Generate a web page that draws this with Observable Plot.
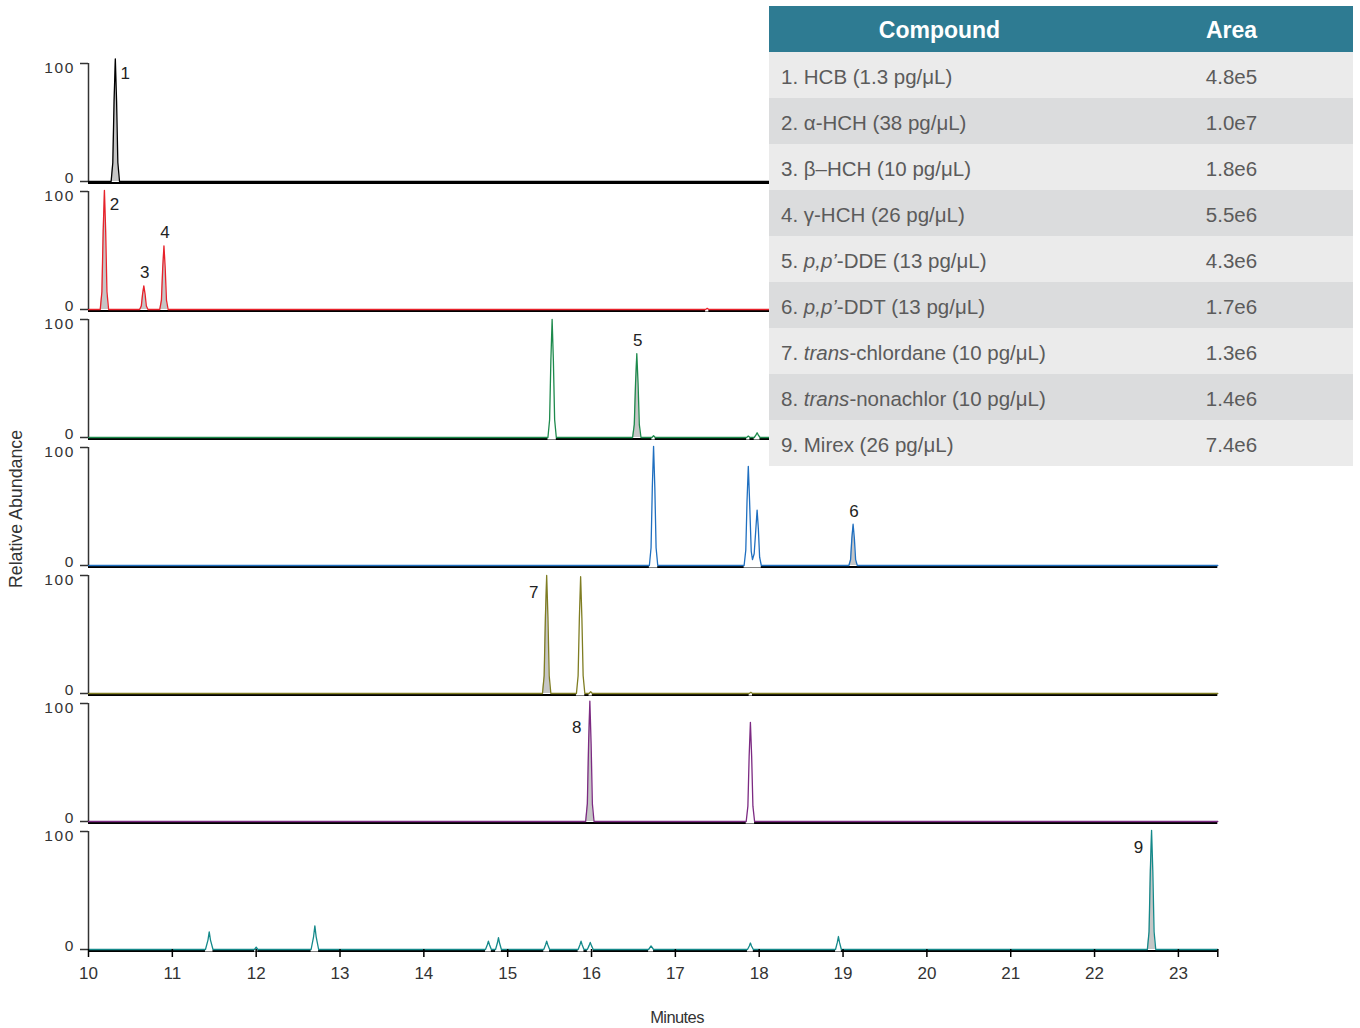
<!DOCTYPE html>
<html><head><meta charset="utf-8">
<script src="https://cdn.jsdelivr.net/npm/d3@7"></script>
<script src="https://cdn.jsdelivr.net/npm/@observablehq/plot@0.6"></script>
<style>
body{margin:0;background:#fff;}
#wrap{position:relative;width:1360px;height:1028px;overflow:hidden;font-family:"Liberation Sans",Arial,sans-serif;}
#chart{position:absolute;left:0;top:0;}
#tbl{position:absolute;left:769px;top:6px;width:584px;}
.row{display:flex;height:46px;line-height:46px;font-size:20.5px;color:#5b5b5b;}
.row > div{position:relative;top:2px;}
.row .c1{width:341px;padding-left:12px;box-sizing:border-box;white-space:nowrap;}
.row .c2{width:243px;text-align:center;}
.hdr{background:#2e7b92;color:#fff;font-weight:bold;font-size:23px;}
.hdr > div{top:1px;}
.hdr .c1{text-align:center;padding-left:0;}
.odd{background:#ebebeb}.even{background:#dbdcdd}
.ytl text{letter-spacing:1.6px;}
#ylab{position:absolute;left:16px;top:509px;transform:translate(-50%,-50%) rotate(-90deg);font-size:17.8px;color:#333;white-space:nowrap;}
#xlab{position:absolute;left:677px;top:1017px;transform:translate(-50%,-50%);font-size:16.5px;color:#333;letter-spacing:-0.6px;white-space:nowrap;}
</style></head>
<body><div id="wrap"><div id="chart"></div><div id="tbl"></div><div id="ylab">Relative Abundance</div><div id="xlab">Minutes</div></div>
<script>
// ---- x range (minutes) and ticks
const timeStart = 10, timeEnd = 23.47;
const xTicks = [10,11,12,13,14,15,16,17,18,19,20,21,22,23];
const yTicks = [0, 100];

// ---- panels and their trace colours
const panels = [1,2,3,4,5,6,7];
const panelColors = ["#000000","#e8222b","#1d8a4c","#1f6fc0","#7f7d22","#7c2a82","#14898a"];

// ---- peaks of each trace: [minutes, relative abundance]
const blackPeaks = [
  [[10.27,0],[10.29,16],[10.305,68],[10.32,104],[10.335,68],[10.35,16],[10.37,0]]
];
const blackPeakNums = [1];

const redPeaks = [
  [[10.14,0],[10.16,15],[10.175,66],[10.19,101],[10.205,66],[10.22,15],[10.24,0]],
  [[10.61,0],[10.63,3],[10.645,13],[10.66,20],[10.675,13],[10.69,3],[10.71,0]],
  [[10.85,0],[10.87,8],[10.885,35],[10.90,54],[10.915,35],[10.93,8],[10.95,0]],
  [[17.36,0],[17.38,1],[17.40,0]]
];
const redPeakNums = [2,3,4,null];

const greenPeaks = [
  [[15.48,0],[15.50,15],[15.515,65],[15.53,100],[15.545,65],[15.56,15],[15.58,0]],
  [[16.49,0],[16.51,11],[16.525,46],[16.54,71],[16.555,46],[16.57,11],[16.59,0]],
  [[16.72,0],[16.74,1.5],[16.76,0]],
  [[17.85,0],[17.87,1.2],[17.89,0]],
  [[17.94,0],[17.96,2],[17.975,4],[17.99,2],[18.01,0]]
];
const greenPeakNums = [null,5,null,null,null];

const bluePeaks = [
  [[16.69,0],[16.71,15],[16.725,66],[16.74,101],[16.755,66],[16.77,15],[16.79,0]],
  [[17.82,0],[17.84,13],[17.855,55],[17.87,84],[17.885,55],[17.905,12],[17.92,5],[17.94,10],[17.96,31],[17.975,47],[17.99,31],[18.005,7],[18.025,0]],
  [[19.07,0],[19.09,5],[19.105,23],[19.12,35],[19.135,23],[19.15,5],[19.17,0]]
];
const bluePeakNums = [null,null,6];

const olivePeaks = [
  [[15.415,0],[15.435,15],[15.45,65],[15.465,100],[15.48,65],[15.495,15],[15.515,0]],
  [[15.82,0],[15.84,15],[15.855,64],[15.87,99],[15.885,64],[15.90,15],[15.92,0]],
  [[15.97,0],[15.99,1.5],[16.01,0]],
  [[17.88,0],[17.90,1],[17.92,0]]
];
const olivePeakNums = [7,null,null,null];

const purplePeaks = [
  [[15.93,0],[15.95,15],[15.965,66],[15.98,102],[15.995,66],[16.01,15],[16.03,0]],
  [[17.845,0],[17.865,13],[17.88,55],[17.895,84],[17.91,55],[17.925,13],[17.945,0]]
];
const purplePeakNums = [8,null];

const tealPeaks = [
  [[11.395,0],[11.425,8],[11.44,15],[11.455,8],[11.485,0]],
  [[11.98,0],[12.00,2],[12.02,0]],
  [[12.655,0],[12.685,11],[12.70,20],[12.715,11],[12.745,0]],
  [[14.735,0],[14.757,4],[14.77,7],[14.783,4],[14.805,0]],
  [[14.855,0],[14.877,5.5],[14.89,10],[14.903,5.5],[14.925,0]],
  [[15.43,0],[15.452,4],[15.465,7],[15.478,4],[15.50,0]],
  [[15.84,0],[15.862,4],[15.875,7],[15.888,4],[15.91,0]],
  [[15.95,0],[15.972,3.5],[15.985,6],[15.998,3.5],[16.02,0]],
  [[16.68,0],[16.71,3],[16.74,0]],
  [[17.86,0],[17.882,3],[17.895,5.5],[17.908,3],[17.93,0]],
  [[18.91,0],[18.932,6],[18.945,11],[18.958,6],[18.98,0]],
  [[22.63,0],[22.65,15],[22.665,66],[22.68,101],[22.695,66],[22.71,15],[22.73,0]]
];
const tealPeakNums = [null,null,null,null,null,null,null,null,null,null,null,9];

// ---- table
const compoundNames = [
  "1. HCB (1.3 pg/μL)",
  "2. α-HCH (38 pg/μL)",
  "3. β–HCH (10 pg/μL)",
  "4. γ-HCH (26 pg/μL)",
  "5. <i>p,p’</i>-DDE (13 pg/μL)",
  "6. <i>p,p’</i>-DDT (13 pg/μL)",
  "7. <i>trans</i>-chlordane (10 pg/μL)",
  "8. <i>trans</i>-nonachlor (10 pg/μL)",
  "9. Mirex (26 pg/μL)"
];
const compoundAreas = ["4.8e5","1.0e7","1.8e6","5.5e6","4.3e6","1.7e6","1.3e6","1.4e6","7.4e6"];

// ---- build rows
const allPeaks = [blackPeaks, redPeaks, greenPeaks, bluePeaks, olivePeaks, purplePeaks, tealPeaks];
const allNums = [blackPeakNums, redPeakNums, greenPeakNums, bluePeakNums, olivePeakNums, purplePeakNums, tealPeakNums];
const linePts = [], areaPts = [], labelRows = [];
allPeaks.forEach((peaks, i) => {
  const panel = panels[i];
  linePts.push({panel, t: timeStart, v: 0});
  peaks.forEach((pk, j) => {
    const num = allNums[i][j];
    const labeled = num != null;
    pk.forEach(([t, v]) => {
      linePts.push({panel, t, v});
      areaPts.push({panel, id: i + "-" + j, t, v, labeled});
    });
    if (labeled) {
      const apex = pk.reduce((a, b) => (b[1] > a[1] ? b : a));
      labelRows.push({panel, n: num, t: apex[0], v: apex[1]});
    }
  });
  linePts.push({panel, t: timeEnd, v: 0});
});

const labelText = (group, dx, dy) => Plot.text(labelRows, {
  filter: d => group.includes(d.n), x: "t", y: "v", fy: "panel",
  text: d => String(d.n), dx, dy, fill: "#222", fontSize: 17
});
const yTickText = (value, dy) => Plot.text([value], {
  y: d => d, text: d => String(d), frameAnchor: "left", textAnchor: "end",
  dx: -13.5, dy, fill: "#333", fontSize: 15.5, className: "ytl"
});

const chart = Plot.plot({
  width: 1360, height: 1028,
  marginTop: 62.7, marginBottom: 79.3, marginLeft: 88, marginRight: 142.7,
  style: {fontFamily: '"Liberation Sans", Arial, sans-serif', fontSize: "17px", color: "#333", background: "transparent"},
  x: {domain: [timeStart, timeEnd]},
  y: {domain: [0, 100]},
  fy: {domain: panels, paddingInner: 10/128, paddingOuter: 0, axis: null},
  color: {domain: panels, range: panelColors},
  marks: [
    Plot.ruleY([0], {stroke: "#000", strokeWidth: 2, dy: 1.5}),
    Plot.areaY(areaPts, {filter: d => d.labeled, x: "t", y1: 0, y2: "v", z: "id", fy: "panel", fill: "#c6c6c6"}),
    Plot.areaY(areaPts, {filter: d => !d.labeled, x: "t", y1: -2.2, y2: "v", z: "id", fy: "panel", fill: "#fff"}),
    Plot.line(linePts, {x: "t", y: "v", z: "panel", fy: "panel", stroke: "panel", strokeWidth: 1.3}),
    Plot.ruleX([timeStart], {y1: 0, y2: 100, stroke: "#333", strokeWidth: 1.5}),
    Plot.axisY({ticks: yTicks, tickSize: 8, tickFormat: () => "", label: null, stroke: "#333", strokeWidth: 1.5}),
    yTickText(yTicks[0], -3),
    yTickText(yTicks[1], 4.5),
    Plot.axisX({ticks: [...xTicks, timeEnd], tickFormat: d => (d === timeEnd ? "" : String(d)), tickSize: 8, tickPadding: 9, label: null, stroke: "#000", strokeWidth: 1.5, fill: "#333"}),
    labelText([1,2], 10, 14.5),
    labelText([3,4,5,6], 1, -13),
    labelText([7,9], -13, 17),
    labelText([8], -13, 26)
  ]
});
document.getElementById("chart").appendChild(chart);

// table
const tbl = document.getElementById("tbl");
let html = '<div class="row hdr"><div class="c1">Compound</div><div class="c2">Area</div></div>';
compoundNames.forEach((name, i) => {
  html += `<div class="row ${i % 2 === 0 ? "odd" : "even"}"><div class="c1">${name}</div><div class="c2">${compoundAreas[i]}</div></div>`;
});
tbl.innerHTML = html;
</script></body></html>
